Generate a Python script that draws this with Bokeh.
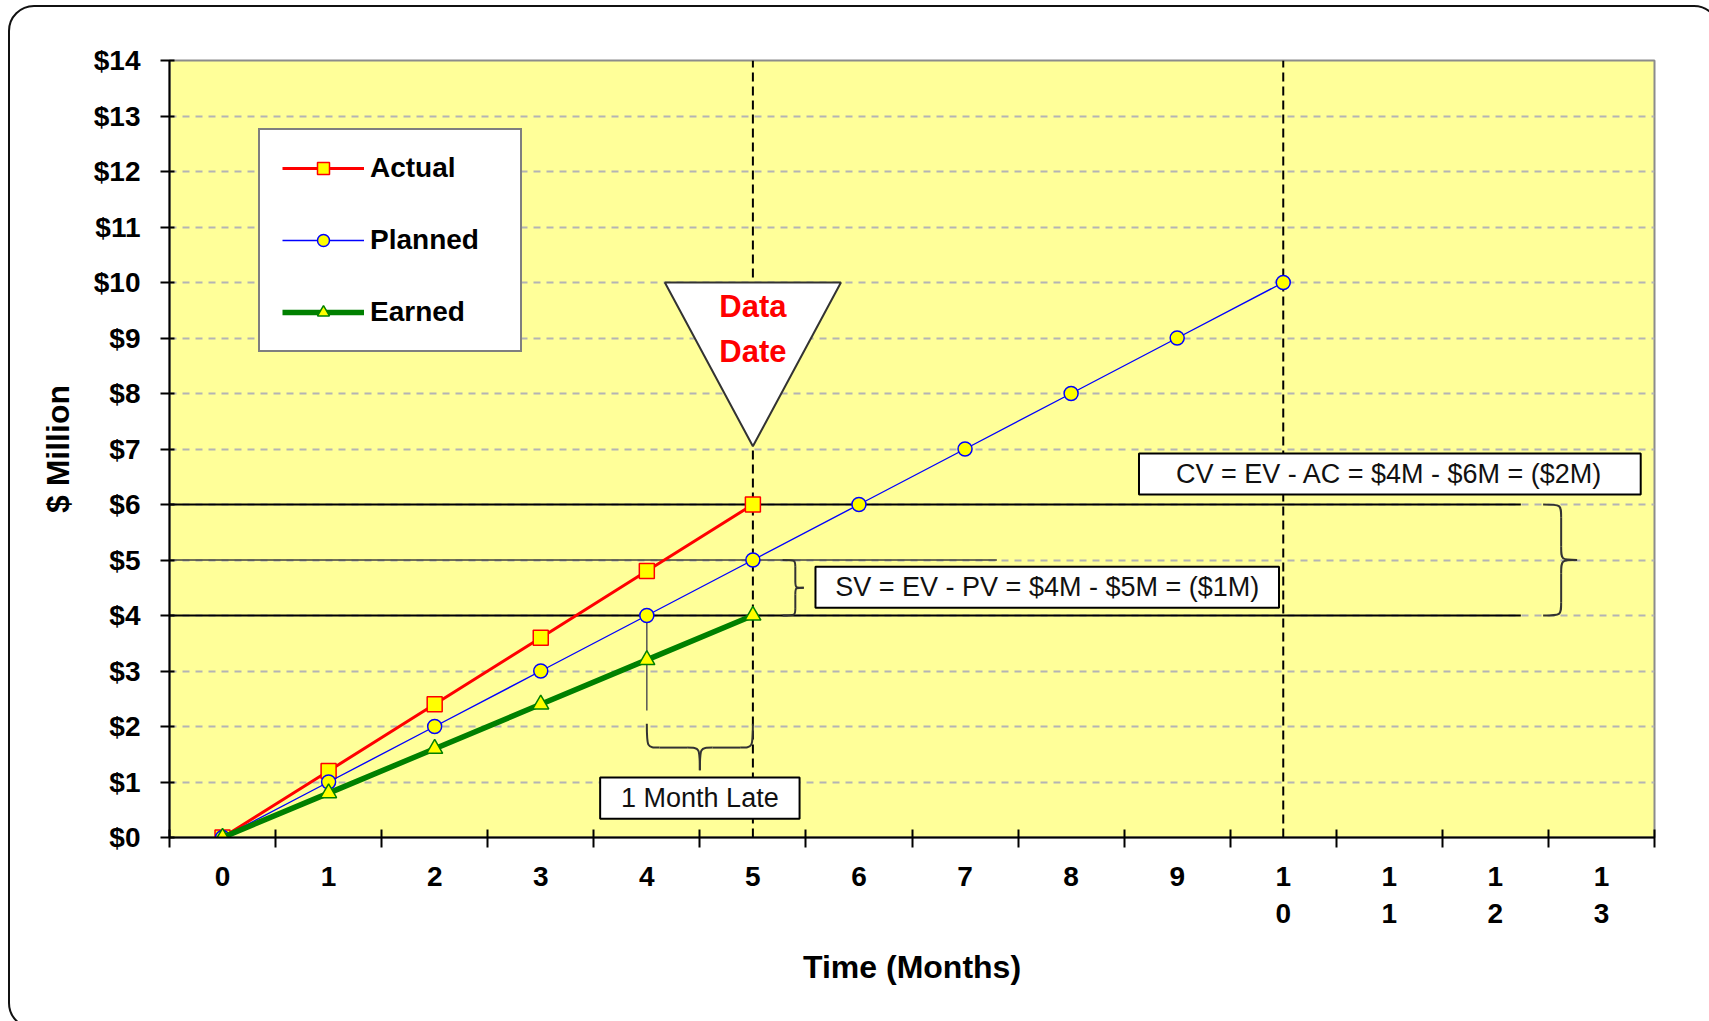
from bokeh.plotting import figure
from bokeh.models import FixedTicker, Legend, LegendItem, InlineStyleSheet
from bokeh.core.properties import value
from bokeh.embed import file_html
from bokeh.resources import INLINE

# ---------------- data ----------------
month_ticks = [0, 1, 2, 3, 4, 5, 6, 7, 8, 9, 10, 11, 12, 13]
month_labels = ["0", "1", "2", "3", "4", "5", "6", "7", "8", "9",
                "1\n0", "1\n1", "1\n2", "1\n3"]
dollar_ticks = [0, 1, 2, 3, 4, 5, 6, 7, 8, 9, 10, 11, 12, 13, 14]
dollar_labels = ["$0", "$1", "$2", "$3", "$4", "$5", "$6", "$7",
                 "$8", "$9", "$10", "$11", "$12", "$13", "$14"]

actual_months = [0, 1, 2, 3, 4, 5]
actual_cost = [0.0, 1.2, 2.4, 3.6, 4.8, 6.0]

planned_months = [0, 1, 2, 3, 4, 5, 6, 7, 8, 9, 10]
planned_value = [0.0, 1.0, 2.0, 3.0, 4.0, 5.0, 6.0, 7.0, 8.0, 9.0, 10.0]

earned_months = [0, 1, 2, 3, 4, 5]
earned_value = [0.0, 0.8, 1.6, 2.4, 3.2, 4.0]

data_date = 5          # month of the status date
plan_finish = 10       # planned completion month
ac_now = 6.0           # actual cost at the data date
pv_now = 5.0           # planned value at the data date
ev_now = 4.0           # earned value at the data date
ev_month_planned = 4   # month in which the plan reached today's earned value

cv_text = "CV = EV - AC = $4M - $6M = ($2M)"
sv_text = "SV = EV - PV = $4M - $5M = ($1M)"
late_text = "1 Month Late"

# ---------------- styling ----------------
BOLD_FONT = "Liberation Sans"
PLAIN_FONT = "Liberation Sans"
YELLOW = "#ffff00"

p = figure(width=1709, height=1021,
           x_range=(-0.5, 13.5), y_range=(0, 14),
           output_backend="svg", toolbar_location=None,
           min_border_left=169, min_border_right=55,
           min_border_top=60, min_border_bottom=184,
           background_fill_color="#ffff99", border_fill_color="white",
           outline_line_color="#8c8c8c", outline_line_width=2)

# rounded chart-area frame around the whole figure
p.stylesheets = [InlineStyleSheet(css="""
:host { position: relative; overflow: hidden; }
:host::after {
  content: ""; position: absolute; left: 8px; top: 5px;
  width: 1712px; height: 1024px; box-sizing: border-box;
  border: 2px solid #111; border-radius: 26px; pointer-events: none;
}
""")]

# y axis
yax = p.yaxis[0]
yax.ticker = FixedTicker(ticks=dollar_ticks)
yax.major_label_overrides = {t: lab for t, lab in zip(dollar_ticks, dollar_labels)}
yax.axis_line_color = "black"
yax.axis_line_width = 2
yax.major_tick_line_color = "black"
yax.major_tick_line_width = 2
yax.major_tick_out = 9
yax.major_tick_in = 5
yax.minor_tick_line_color = None
yax.major_label_text_font = BOLD_FONT
yax.major_label_text_font_style = "bold"
yax.major_label_text_font_size = "28px"
yax.major_label_text_color = "black"
yax.major_label_standoff = 20
yax.axis_label = "$ Million"
yax.axis_label_text_font = BOLD_FONT
yax.axis_label_text_font_style = "bold"
yax.axis_label_text_font_size = "32px"
yax.axis_label_text_color = "black"
yax.axis_label_standoff = 15

# x axis: month labels centred in each category, tick marks on the boundaries
xax = p.xaxis[0]
xax.ticker = FixedTicker(ticks=month_ticks,
                         minor_ticks=[t - 0.5 for t in month_ticks] + [13.5])
xax.major_label_overrides = {t: lab for t, lab in zip(month_ticks, month_labels)}
xax.axis_line_color = "black"
xax.axis_line_width = 2
xax.major_tick_line_color = None
xax.major_tick_out = 0
xax.major_tick_in = 0
xax.minor_tick_line_color = "black"
xax.minor_tick_line_width = 2
xax.minor_tick_out = 10
xax.minor_tick_in = 8
xax.major_label_text_font = BOLD_FONT
xax.major_label_text_font_style = "bold"
xax.major_label_text_font_size = "28px"
xax.major_label_text_color = "black"
xax.major_label_standoff = 13
xax.axis_label = "Time (Months)"
xax.axis_label_text_font = BOLD_FONT
xax.axis_label_text_font_style = "bold"
xax.axis_label_text_font_size = "32px"
xax.axis_label_text_color = "black"
xax.axis_label_standoff = 17

# grid
p.xgrid.visible = False
p.ygrid.ticker = FixedTicker(ticks=dollar_ticks[1:-1])
p.ygrid.grid_line_color = "#b4b4b4"
p.ygrid.grid_line_dash = "7 6"
p.ygrid.grid_line_width = 2

# reference levels at the data date (AC, PV, EV)
p.segment(x0=[-0.5, -0.5], y0=[ac_now, ev_now], x1=[12.24, 12.24], y1=[ac_now, ev_now],
          line_color="black", line_width=2)
p.segment(x0=[-0.5], y0=[pv_now], x1=[7.3], y1=[pv_now],
          line_color="#404040", line_width=1.5)

# data-date and plan-finish markers
p.segment(x0=[data_date, plan_finish], y0=[0, 0], x1=[data_date, plan_finish], y1=[14, 14],
          line_color="black", line_width=2, line_dash="9 5")

# schedule slip: when the plan reached today's EV
p.segment(x0=[ev_month_planned], y0=[planned_value[ev_month_planned]],
          x1=[ev_month_planned], y1=[2.29], line_color="#555555", line_width=1.5)

# series
r_al = p.line(actual_months, actual_cost, line_color="#ff0000", line_width=3)
r_am = p.scatter(actual_months, actual_cost, marker="square", size=15,
                 fill_color=YELLOW, line_color="#ff0000", line_width=1.5)
r_pl = p.line(planned_months, planned_value, line_color="#0000ff", line_width=1.4)
r_pm = p.scatter(planned_months, planned_value, marker="circle", size=14,
                 fill_color=YELLOW, line_color="#0000ff", line_width=1.5)
r_el = p.line(earned_months, earned_value, line_color="#008000", line_width=5.5)
r_em = p.scatter(earned_months, earned_value, marker="triangle", size=16,
                 fill_color=YELLOW, line_color="#008000", line_width=1.5)

# "Data Date" pointer
p.patch(x=[data_date - 0.83, data_date + 0.83, data_date], y=[10, 10, 7.05],
        fill_color="white", line_color="#333333", line_width=2)
p.text(x=[data_date, data_date], y=[9.57, 8.76], text=["Data", "Date"],
       text_color="#ff0000", text_font=value(BOLD_FONT), text_font_style="bold",
       text_font_size="31px", text_align="center", text_baseline="middle")

# variance call-out boxes
p.quad(left=[8.64, 5.59, 3.56], right=[13.37, 9.96, 5.44],
       bottom=[6.18, 4.14, 0.34], top=[6.92, 4.88, 1.08],
       fill_color="white", line_color="black", line_width=2)
p.text(x=[11.0, 7.775, 4.5], y=[6.55, 4.51, 0.71], text=[cv_text, sv_text, late_text],
       text_color="#111111", text_font=value(PLAIN_FONT), text_font_size="27px",
       text_align="center", text_baseline="middle")


# curly braces
def right_brace(x0, xm, xt, y_top, y_bot):
    ym = (y_top + y_bot) / 2
    q = (y_top - y_bot) * 0.12
    return [
        (x0, y_top, xm, y_top - q, xm, y_top, xm, y_top),
        (xm, y_top - q, xm, ym + q, xm, y_top - q, xm, ym + q),
        (xm, ym + q, xt, ym, xm, ym, xm, ym),
        (xt, ym, xm, ym - q, xm, ym, xm, ym),
        (xm, ym - q, xm, y_bot + q, xm, ym - q, xm, y_bot + q),
        (xm, y_bot + q, x0, y_bot, xm, y_bot, xm, y_bot),
    ]


def down_brace(xl, xr, y_top, y_stem, y_tip):
    xc = (xl + xr) / 2
    q = (xr - xl) * 0.12
    return [
        (xl, y_top, xl + q, y_stem, xl, y_stem, xl, y_stem),
        (xl + q, y_stem, xc - q, y_stem, xl + q, y_stem, xc - q, y_stem),
        (xc - q, y_stem, xc, y_tip, xc, y_stem, xc, y_stem),
        (xc, y_tip, xc + q, y_stem, xc, y_stem, xc, y_stem),
        (xc + q, y_stem, xr - q, y_stem, xc + q, y_stem, xr - q, y_stem),
        (xr - q, y_stem, xr, y_top, xr, y_stem, xr, y_stem),
    ]


curves = (right_brace(5.28, 5.40, 5.48, pv_now, ev_now)
          + right_brace(12.45, 12.62, 12.77, ac_now, ev_now)
          + down_brace(ev_month_planned, data_date, 2.05, 1.62, 1.21))
cols = list(zip(*curves))
p.bezier(x0=list(cols[0]), y0=list(cols[1]), x1=list(cols[2]), y1=list(cols[3]),
         cx0=list(cols[4]), cy0=list(cols[5]), cx1=list(cols[6]), cy1=list(cols[7]),
         line_color="#333333", line_width=2)

# legend
legend = Legend(items=[LegendItem(label="Actual", renderers=[r_al, r_am]),
                       LegendItem(label="Planned", renderers=[r_pl, r_pm]),
                       LegendItem(label="Earned", renderers=[r_el, r_em])],
                location=(89, 485), orientation="vertical",
                padding=22, spacing=40, margin=0,
                glyph_width=82, glyph_height=30, label_height=30,
                label_width=128, label_standoff=6,
                label_text_font=BOLD_FONT, label_text_font_style="bold",
                label_text_font_size="28px", label_text_color="black",
                border_line_color="black", border_line_width=2,
                background_fill_color="white", background_fill_alpha=1.0)
p.add_layout(legend)

open("out.html", "w").write(file_html(p, INLINE))
